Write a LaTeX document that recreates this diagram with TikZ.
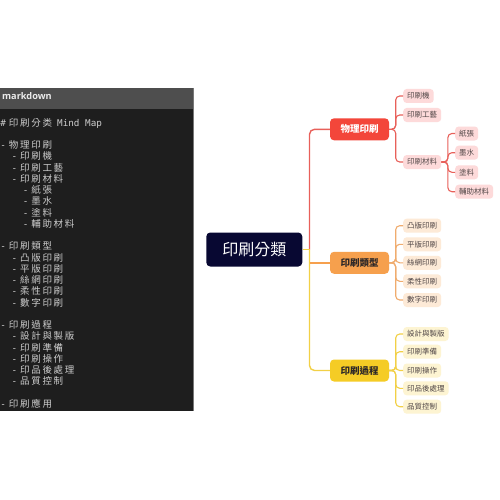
\documentclass[tikz,border=0pt]{standalone}
\usepackage{fontspec}
\setmainfont{Open Sans}
\newfontfamily\cjk{Noto Sans CJK TC}
\newfontfamily\cjkcode{Noto Sans CJK TC}[LetterSpace=18]
\newfontfamily\mono{DejaVu Sans Mono}
\definecolor{panelbg}{RGB}{30,30,30}
\definecolor{headbg}{RGB}{78,78,78}
\definecolor{panelborder}{RGB}{120,120,120}
\definecolor{codetext}{RGB}{205,205,205}
\definecolor{rootc}{RGB}{8,8,50}
\definecolor{physc}{RGB}{243,70,58}
\definecolor{typec}{RGB}{246,160,77}
\definecolor{procc}{RGB}{245,204,37}
\definecolor{physline}{RGB}{232,96,90}
\definecolor{typeline}{RGB}{240,172,110}
\definecolor{procline}{RGB}{242,208,70}
\definecolor{physl}{RGB}{253,218,218}
\definecolor{typel}{RGB}{253,234,215}
\definecolor{procl}{RGB}{253,244,210}
\definecolor{leaftext}{RGB}{80,70,70}
\newcommand\codeline[4]{%
  \node[codedash] (#1-d) at ({0.2+11.2*#2},{126+11.25*#3}) {-};
  \node[codecjk] (#1) at ({8.7+11.2*#2},{126+11.25*#3}) {#4};}
\begin{document}
\begin{tikzpicture}[x=1pt,y=-1pt,
  codedash/.style={font=\mono\fontsize{9.3}{10}\selectfont, text=codetext, inner sep=0pt, anchor=base west},
  codecjk/.style={font=\cjkcode\fontsize{9.5}{10}\selectfont, text=codetext, inner sep=0pt, anchor=base west},
  rootbox/.style={fill=rootc, text=white, rounded corners=4pt, minimum width=96pt, minimum height=34pt, inner sep=0pt, font=\cjk\fontsize{16}{18}\selectfont},
  lone/.style={rounded corners=4pt, minimum width=59pt, minimum height=22pt, inner sep=0pt, font=\cjk\bfseries\fontsize{9.5}{11}\selectfont, text={rgb,255:red,45;green,40;blue,40}},
  leaf/.style={anchor=west, rounded corners=3.5pt, inner xsep=4pt, inner ysep=0pt, minimum height=14pt, text=leaftext, font=\cjk\fontsize{7.5}{8}\selectfont},
  physbr/.style={draw=physline, line width=1.1pt, rounded corners=4pt},
  typebr/.style={draw=typeline, line width=1.1pt, rounded corners=4pt},
  procbr/.style={draw=procline, line width=1.1pt, rounded corners=4pt}]
\useasboundingbox (0,0) rectangle (500,500);
\fill[white] (0,0) rectangle (500,500);
% code panel
\fill[panelbg] (0,88) rectangle (193,411);
\fill[headbg] (0,88) rectangle (193,109);
\draw[panelborder, line width=0.8pt] (193,88) -- (193,411);
\node[anchor=west, inner sep=0pt, text={rgb,255:red,235;green,235;blue,235}, font=\bfseries\fontsize{9.2}{10}\selectfont] (hdr) at (2,96) {markdown};
\node[codedash] (hash) at (0.2,126) {\#};
\node[codecjk] (title) at (8.7,126) {印刷分类};
\node[codedash] (mm) at (57,126) {Mind Map};
\codeline{a}{0}{2}{物理印刷}
\codeline{a1}{1}{3}{印刷機}
\codeline{a2}{1}{4}{印刷工藝}
\codeline{a3}{1}{5}{印刷材料}
\codeline{a31}{2}{6}{紙張}
\codeline{a32}{2}{7}{墨水}
\codeline{a33}{2}{8}{塗料}
\codeline{a34}{2}{9}{輔助材料}
\codeline{b}{0}{11}{印刷類型}
\codeline{b1}{1}{12}{凸版印刷}
\codeline{b2}{1}{13}{平版印刷}
\codeline{b3}{1}{14}{絲網印刷}
\codeline{b4}{1}{15}{柔性印刷}
\codeline{b5}{1}{16}{數字印刷}
\codeline{c}{0}{18}{印刷過程}
\codeline{c1}{1}{19}{設計與製版}
\codeline{c2}{1}{20}{印刷準備}
\codeline{c3}{1}{21}{印刷操作}
\codeline{c4}{1}{22}{印品後處理}
\codeline{c5}{1}{23}{品質控制}
\codeline{d}{0}{25}{印刷應用}
% mind map
\node[rootbox] (root) at (254.3,249.5) {印刷分類};
\node[lone, fill=physc, text=white] (phys) at (359.5,129.3) {物理印刷};
\node[lone, fill=typec] (type) at (359.5,262.8) {印刷類型};
\node[lone, fill=procc] (proc) at (359.5,370.5) {印刷過程};
\coordinate (trunk) at (309.5,249.5);
\draw[draw=physline, line width=1.4pt, rounded corners=5pt] (phys.west) -| (trunk);
\draw[draw=procline, line width=1.4pt] (root.east) -- (trunk);
\draw[draw=procline, line width=1.4pt, rounded corners=5pt] (trunk) |- (proc.west);
\draw[draw=typec, line width=1.4pt] (trunk |- type.west) -- (type.west);
% physical leaves
\node[leaf, fill=physl] (p1) at (403,96) {印刷機};
\node[leaf, fill=physl] (p2) at (403,115) {印刷工藝};
\node[leaf, fill=physl] (p3) at (403,162) {印刷材料};
\node[leaf, fill=physl] (m1) at (455,133.5) {紙張};
\node[leaf, fill=physl] (m2) at (455,152.7) {墨水};
\node[leaf, fill=physl] (m3) at (455,172.3) {塗料};
\node[leaf, fill=physl] (m4) at (455,191.7) {輔助材料};
\foreach \c in {p1,p2,p3} \draw[physbr] (phys.east) -- ++(6.5,0) |- (\c.west);
\foreach \c in {m1,m2,m3,m4} \draw[physbr] (p3.east) -- ++(6.5,0) |- (\c.west);
% type leaves
\node[leaf, fill=typel] (t1) at (403,225.7) {凸版印刷};
\node[leaf, fill=typel] (t2) at (403,244.3) {平版印刷};
\node[leaf, fill=typel] (t3) at (403,262.8) {絲網印刷};
\node[leaf, fill=typel] (t4) at (403,281.3) {柔性印刷};
\node[leaf, fill=typel] (t5) at (403,300) {數字印刷};
\foreach \c in {t1,t2,t3,t4,t5} \draw[typebr] (type.east) -- ++(6.5,0) |- (\c.west);
% process leaves
\node[leaf, fill=procl] (r1) at (403,334) {設計與製版};
\node[leaf, fill=procl] (r2) at (403,351.7) {印刷準備};
\node[leaf, fill=procl] (r3) at (403,370.5) {印刷操作};
\node[leaf, fill=procl] (r4) at (403,388.3) {印品後處理};
\node[leaf, fill=procl] (r5) at (403,406.7) {品質控制};
\foreach \c in {r1,r2,r3,r4,r5} \draw[procbr] (proc.east) -- ++(6.5,0) |- (\c.west);
\end{tikzpicture}
\end{document}
